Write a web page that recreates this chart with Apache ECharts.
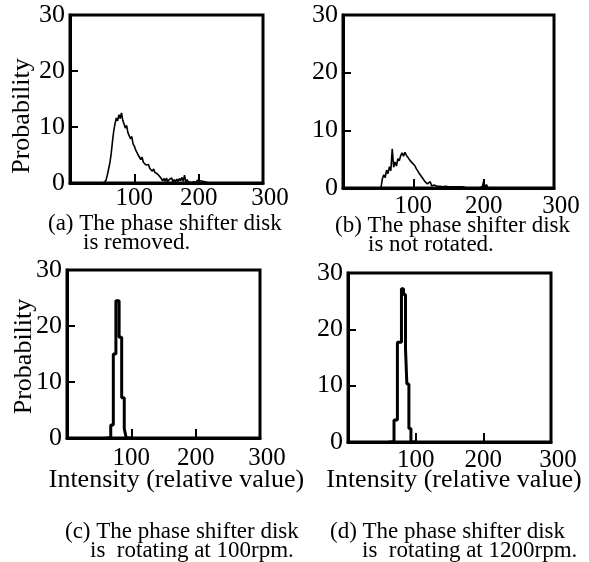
<!DOCTYPE html>
<html>
<head>
<meta charset="utf-8">
<script src="https://cdn.jsdelivr.net/npm/echarts@6/dist/echarts.min.js"></script>
<style>
  html, body { margin: 0; background: #fff; }
  #chart { width: 589px; height: 562px; }
</style>
</head>
<body>
<div id="chart"></div>
<script>
// (a) phase shifter disk removed
const intensityA = [48, 50, 52, 54, 56, 58, 60, 62, 64, 66, 68, 70, 72, 74, 76, 78, 80, 82, 84, 86, 88, 90, 92, 94, 96, 98,
  100, 102, 104, 106, 108, 110, 112, 114, 116, 118, 120, 122, 124, 126, 128, 130, 132, 134, 136, 138, 140, 142, 144, 146, 148,
  150, 152, 154, 156, 158, 160, 162, 164, 166, 168, 170, 172, 174, 176, 178, 180, 182, 184, 186, 188, 190, 192, 194, 196, 198,
  200, 202, 204, 206, 208, 210, 212, 214, 216, 246, 248, 250]
const probA = [0, 0, 0, 0.1, 0.5, 1.4, 2.5, 3.6, 5.2, 7.4, 9.3, 10.6, 11.6, 11.1, 12.2, 11.5, 12.5, 11.2, 10.9, 9.8, 10.3, 9.0, 9.2, 7.9, 8.3, 7.0,
  6.6, 5.9, 6.2, 5.0, 4.9, 4.2, 4.6, 3.7, 4.0, 3.2, 2.9, 3.3, 2.6, 2.8, 2.1, 2.5, 1.9, 2.2, 1.6, 1.9, 1.1, 0.8, 0.4, 0.8, 0.3,
  0.9, 0.2, 0.6, 0.3, 0.9, 0.2, 0.6, 0.2, 0.7, 0.3, 0.8, 0.4, 1.0, 0.3, 1.4, 0.2, 0.6, 0.2, 0.5, 0.1, 0.4, 0.2, 0.4, 0.1, 0.5,
  0.2, 0.4, 0.1, 0.3, 0.1, 0.2, 0, 0.1, 0, 0, 0.3, 0]

// (b) not rotated
const intensityB = [50, 52, 54, 56, 58, 60, 62, 64, 66, 68, 70, 72, 74, 76, 78, 80, 82, 84, 86, 88, 90, 92, 94, 96, 98,
  100, 102, 104, 106, 108, 110, 112, 114, 116, 118, 120, 122, 124, 126, 128, 130, 132, 134, 136, 138, 140, 142, 144, 146, 148,
  150, 152, 154, 156, 158, 160, 162, 164, 166, 168, 170, 172, 174, 176, 178, 180, 182, 184, 186, 188, 190, 192, 194, 196, 198,
  200, 202, 204, 206, 208, 210]
const probB = [0, 0, 0.1, 1.6, 2.3, 1.8, 3.1, 2.5, 3.7, 3.0, 6.8, 3.6, 4.5, 3.8, 5.1, 4.7, 5.6, 6.1, 5.5, 6.2, 5.7, 5.9, 5.0, 5.3, 4.4,
  4.1, 3.9, 3.4, 3.0, 2.6, 2.3, 1.9, 1.6, 1.2, 1.0, 0.7, 0.5, 1.1, 0.4, 0.3, 0.5, 0.2, 0.3, 0.1, 0.3, 0.1, 0.2, 0.1, 0.3, 0.1,
  0.2, 0.1, 0.2, 0.1, 0.2, 0.1, 0.2, 0, 0.2, 0.1, 0.2, 0, 0.1, 0.2, 0, 0.1, 0, 0.1, 0, 0.1, 0, 0, 0, 0, 0.2,
  1.2, 0, 0.6, 0, 0.2, 0]

// (c) rotating at 100rpm (bin left edges)
const intensityC = [60, 68, 72, 76, 81, 85, 89, 92, 100]
const probC = [0, 2.3, 15, 24.5, 18, 7.2, 1.7, 0, 0]

// (d) rotating at 1200rpm
const intensityD = [60, 68, 73, 79, 82, 85, 87, 90, 93, 100]
const probD = [0, 3.9, 17.7, 27.2, 26.2, 16.5, 10.3, 2.4, 0, 0]

const FONT = "'Liberation Serif', 'Times New Roman', serif"

const grids = [
  { left: 70, top: 15, width: 193, height: 168 },
  { left: 343, top: 15, width: 211, height: 173 },
  { left: 67, top: 270, width: 193, height: 168 },
  { left: 348, top: 273, width: 203, height: 169 }
]
const xLabelMargin = [3, 6, 8, 6]

function pairs(xs, ys) {
  return xs.map((x, i) => [x, ys[i]])
}

const xAxes = grids.map((g, i) => ({
  type: 'value', gridIndex: i, min: 0, max: 300, interval: 100,
  axisLine: { show: true, lineStyle: { color: '#000', width: 3 } },
  axisTick: { show: true, inside: true, length: 9, lineStyle: { color: '#000', width: 2 } },
  axisLabel: {
    color: '#000', fontFamily: FONT, fontSize: 25, margin: xLabelMargin[i],
    formatter: v => v === 0 ? '' : (v === 300 ? '{r|300}' : String(v)),
    rich: { r: { color: '#000', fontFamily: FONT, fontSize: 25, padding: [0, 0, 6, 14] } }
  },
  splitLine: { show: false },
  name: i >= 2 ? 'Intensity (relative value)' : '',
  nameLocation: 'middle',
  nameMoveOverlap: false,
  nameGap: i === 2 ? 29 : 25,
  nameTextStyle: { color: '#000', fontFamily: FONT, fontSize: 26, padding: i === 2 ? [0, 0, 0, 26] : [0, 0, 0, 9] }
}))

const yAxes = grids.map((g, i) => ({
  type: 'value', gridIndex: i, min: 0, max: 30, interval: 10,
  axisLine: { show: true, lineStyle: { color: '#000', width: 3 } },
  axisTick: { show: true, inside: true, length: 8, lineStyle: { color: '#000', width: 2 } },
  axisLabel: { color: '#000', fontFamily: FONT, fontSize: 26, margin: 5 },
  splitLine: { show: false },
  name: (i === 0 || i === 2) ? 'Probability' : '',
  nameLocation: 'middle',
  nameMoveOverlap: false,
  nameRotate: 90,
  nameGap: i === 0 ? 35 : 30,
  nameTextStyle: { color: '#000', fontFamily: FONT, fontSize: 26, padding: i === 0 ? [0, 34, 0, 0] : [0, 5, 0, 0] }
}))

function lineSeries(i, data, width, step) {
  return {
    type: 'line', xAxisIndex: i, yAxisIndex: i, data,
    step: step || false, showSymbol: false, symbol: 'none', silent: true,
    lineStyle: { color: '#000', width }
  }
}

function caption(x, y, text) {
  return {
    type: 'text', x, y, silent: true,
    style: { text, font: '23px ' + FONT, fill: '#000', textVerticalAlign: 'middle', verticalAlign: 'middle' }
  }
}

const chart = echarts.init(document.getElementById('chart'))
chart.setOption({
  backgroundColor: '#fff',
  animation: false,
  grid: grids.map(g => Object.assign({ show: true, borderColor: '#000', borderWidth: 3, backgroundColor: 'transparent' }, g)),
  xAxis: xAxes,
  yAxis: yAxes,
  series: [
    lineSeries(0, pairs(intensityA, probA), 1.6),
    lineSeries(1, pairs(intensityB, probB), 1.6),
    lineSeries(2, pairs(intensityC, probC), 3, 'end'),
    lineSeries(3, pairs(intensityD, probD), 3, 'end')
  ],
  graphic: [
    caption(48, 224, '(a) The phase shifter disk'),
    caption(83, 243, 'is removed.'),
    caption(335, 226, '(b) The phase shifter disk'),
    caption(368, 245, 'is not rotated.'),
    caption(65, 532, '(c) The phase shifter disk'),
    caption(90, 551, 'is  rotating at 100rpm.'),
    caption(330, 532, '(d) The phase shifter disk'),
    caption(362, 551, 'is  rotating at 1200rpm.')
  ]
})
</script>
</body>
</html>
